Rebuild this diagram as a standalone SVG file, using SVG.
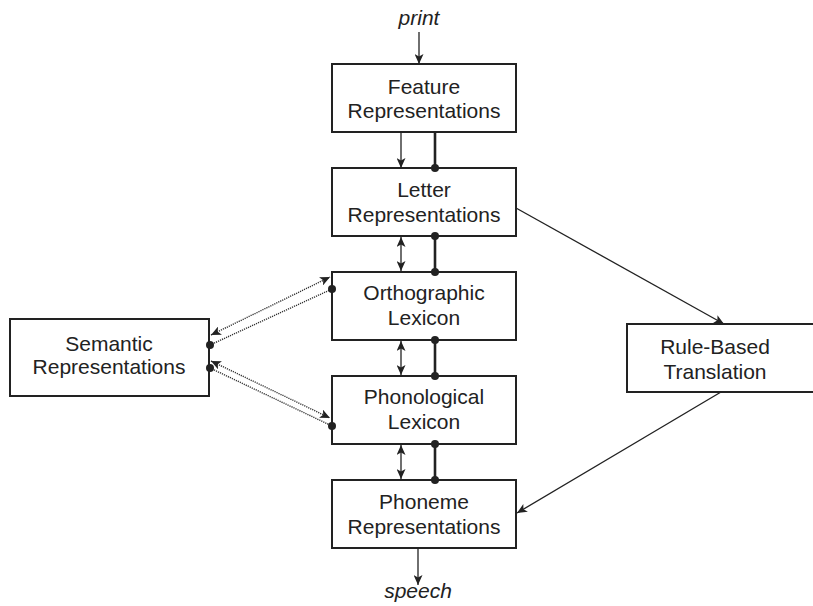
<svg xmlns="http://www.w3.org/2000/svg" width="813" height="606" viewBox="0 0 813 606">
<style>
.box{fill:#fff;stroke:#222;stroke-width:2}
.t{font-family:"Liberation Sans",Arial,sans-serif;font-size:21px;fill:#222;text-anchor:middle}
.it{font-style:italic}
.ex{stroke:#222;stroke-width:1.3;fill:none}
.inh{stroke:#222;stroke-width:2.6;fill:none}
.dot{fill:#222}
.dt{stroke:#333;stroke-width:1.4;stroke-dasharray:1.2 1;fill:none}
</style>
<defs>
<marker id="ah" markerUnits="userSpaceOnUse" markerWidth="11" markerHeight="9" refX="10" refY="4.5" orient="auto-start-reverse">
<path d="M0,0 L10,4.5 L0,9 L2.5,4.5 z" fill="#222"/>
</marker>
</defs>
<g id="nodes">
<g id="feature"><rect class="box" x="332" y="64" width="184" height="68"/><text class="t" x="424" y="94">Feature</text><text class="t" x="424" y="118">Representations</text></g>
<g id="letter"><rect class="box" x="332" y="168" width="184" height="68"/><text class="t" x="424" y="197">Letter</text><text class="t" x="424" y="222">Representations</text></g>
<g id="ortho"><rect class="box" x="332" y="272" width="184" height="68"/><text class="t" x="424" y="300">Orthographic</text><text class="t" x="424" y="325">Lexicon</text></g>
<g id="phon"><rect class="box" x="332" y="376" width="184" height="68"/><text class="t" x="424" y="404">Phonological</text><text class="t" x="424" y="429">Lexicon</text></g>
<g id="phoneme"><rect class="box" x="332" y="480" width="184" height="68"/><text class="t" x="424" y="509">Phoneme</text><text class="t" x="424" y="534">Representations</text></g>
<g id="semantic"><rect class="box" x="10" y="319" width="199" height="77"/><text class="t" x="109" y="351">Semantic</text><text class="t" x="109" y="374">Representations</text></g>
<g id="rule"><rect class="box" x="627" y="324" width="190" height="68"/><text class="t" x="715" y="354">Rule-Based</text><text class="t" x="715" y="379">Translation</text></g>
<g id="print"><text class="t it" x="419" y="25">print</text></g>
<g id="speech"><text class="t it" x="418" y="598">speech</text></g>
</g>
<g id="connectors">
<line class="ex" x1="419" y1="32" x2="419" y2="64" marker-end="url(#ah)"/>
<line class="ex" x1="418" y1="548" x2="418" y2="585" marker-end="url(#ah)"/>
<line class="ex" x1="401" y1="132" x2="401" y2="168" marker-end="url(#ah)"/>
<line class="ex" x1="401" y1="237" x2="401" y2="271" marker-start="url(#ah)" marker-end="url(#ah)"/>
<line class="ex" x1="401" y1="341" x2="401" y2="375" marker-start="url(#ah)" marker-end="url(#ah)"/>
<line class="ex" x1="401" y1="445" x2="401" y2="479" marker-start="url(#ah)" marker-end="url(#ah)"/>
<line class="inh" x1="435" y1="132" x2="435" y2="168"/>
<circle class="dot" cx="435" cy="168" r="4"/>
<line class="inh" x1="435" y1="236" x2="435" y2="272"/>
<circle class="dot" cx="435" cy="236" r="4"/><circle class="dot" cx="435" cy="272" r="4"/>
<line class="inh" x1="435" y1="340" x2="435" y2="376"/>
<circle class="dot" cx="435" cy="340" r="4"/><circle class="dot" cx="435" cy="376" r="4"/>
<line class="inh" x1="435" y1="444" x2="435" y2="480"/>
<circle class="dot" cx="435" cy="444" r="4"/><circle class="dot" cx="435" cy="480" r="4"/>
<line class="ex" x1="516" y1="208" x2="724" y2="324" marker-end="url(#ah)"/>
<line class="ex" x1="721" y1="392" x2="517" y2="513" marker-end="url(#ah)"/>
<line class="dt" x1="211" y1="335" x2="330" y2="277" marker-start="url(#ah)" marker-end="url(#ah)"/>
<line class="dt" x1="210" y1="345" x2="332" y2="289"/>
<circle class="dot" cx="210" cy="345" r="4"/><circle class="dot" cx="332" cy="289" r="4"/>
<line class="dt" x1="211" y1="361" x2="330" y2="418" marker-start="url(#ah)" marker-end="url(#ah)"/>
<line class="dt" x1="210" y1="368" x2="332" y2="426"/>
<circle class="dot" cx="210" cy="368" r="4"/><circle class="dot" cx="332" cy="426" r="4"/>
</g>
</svg>
